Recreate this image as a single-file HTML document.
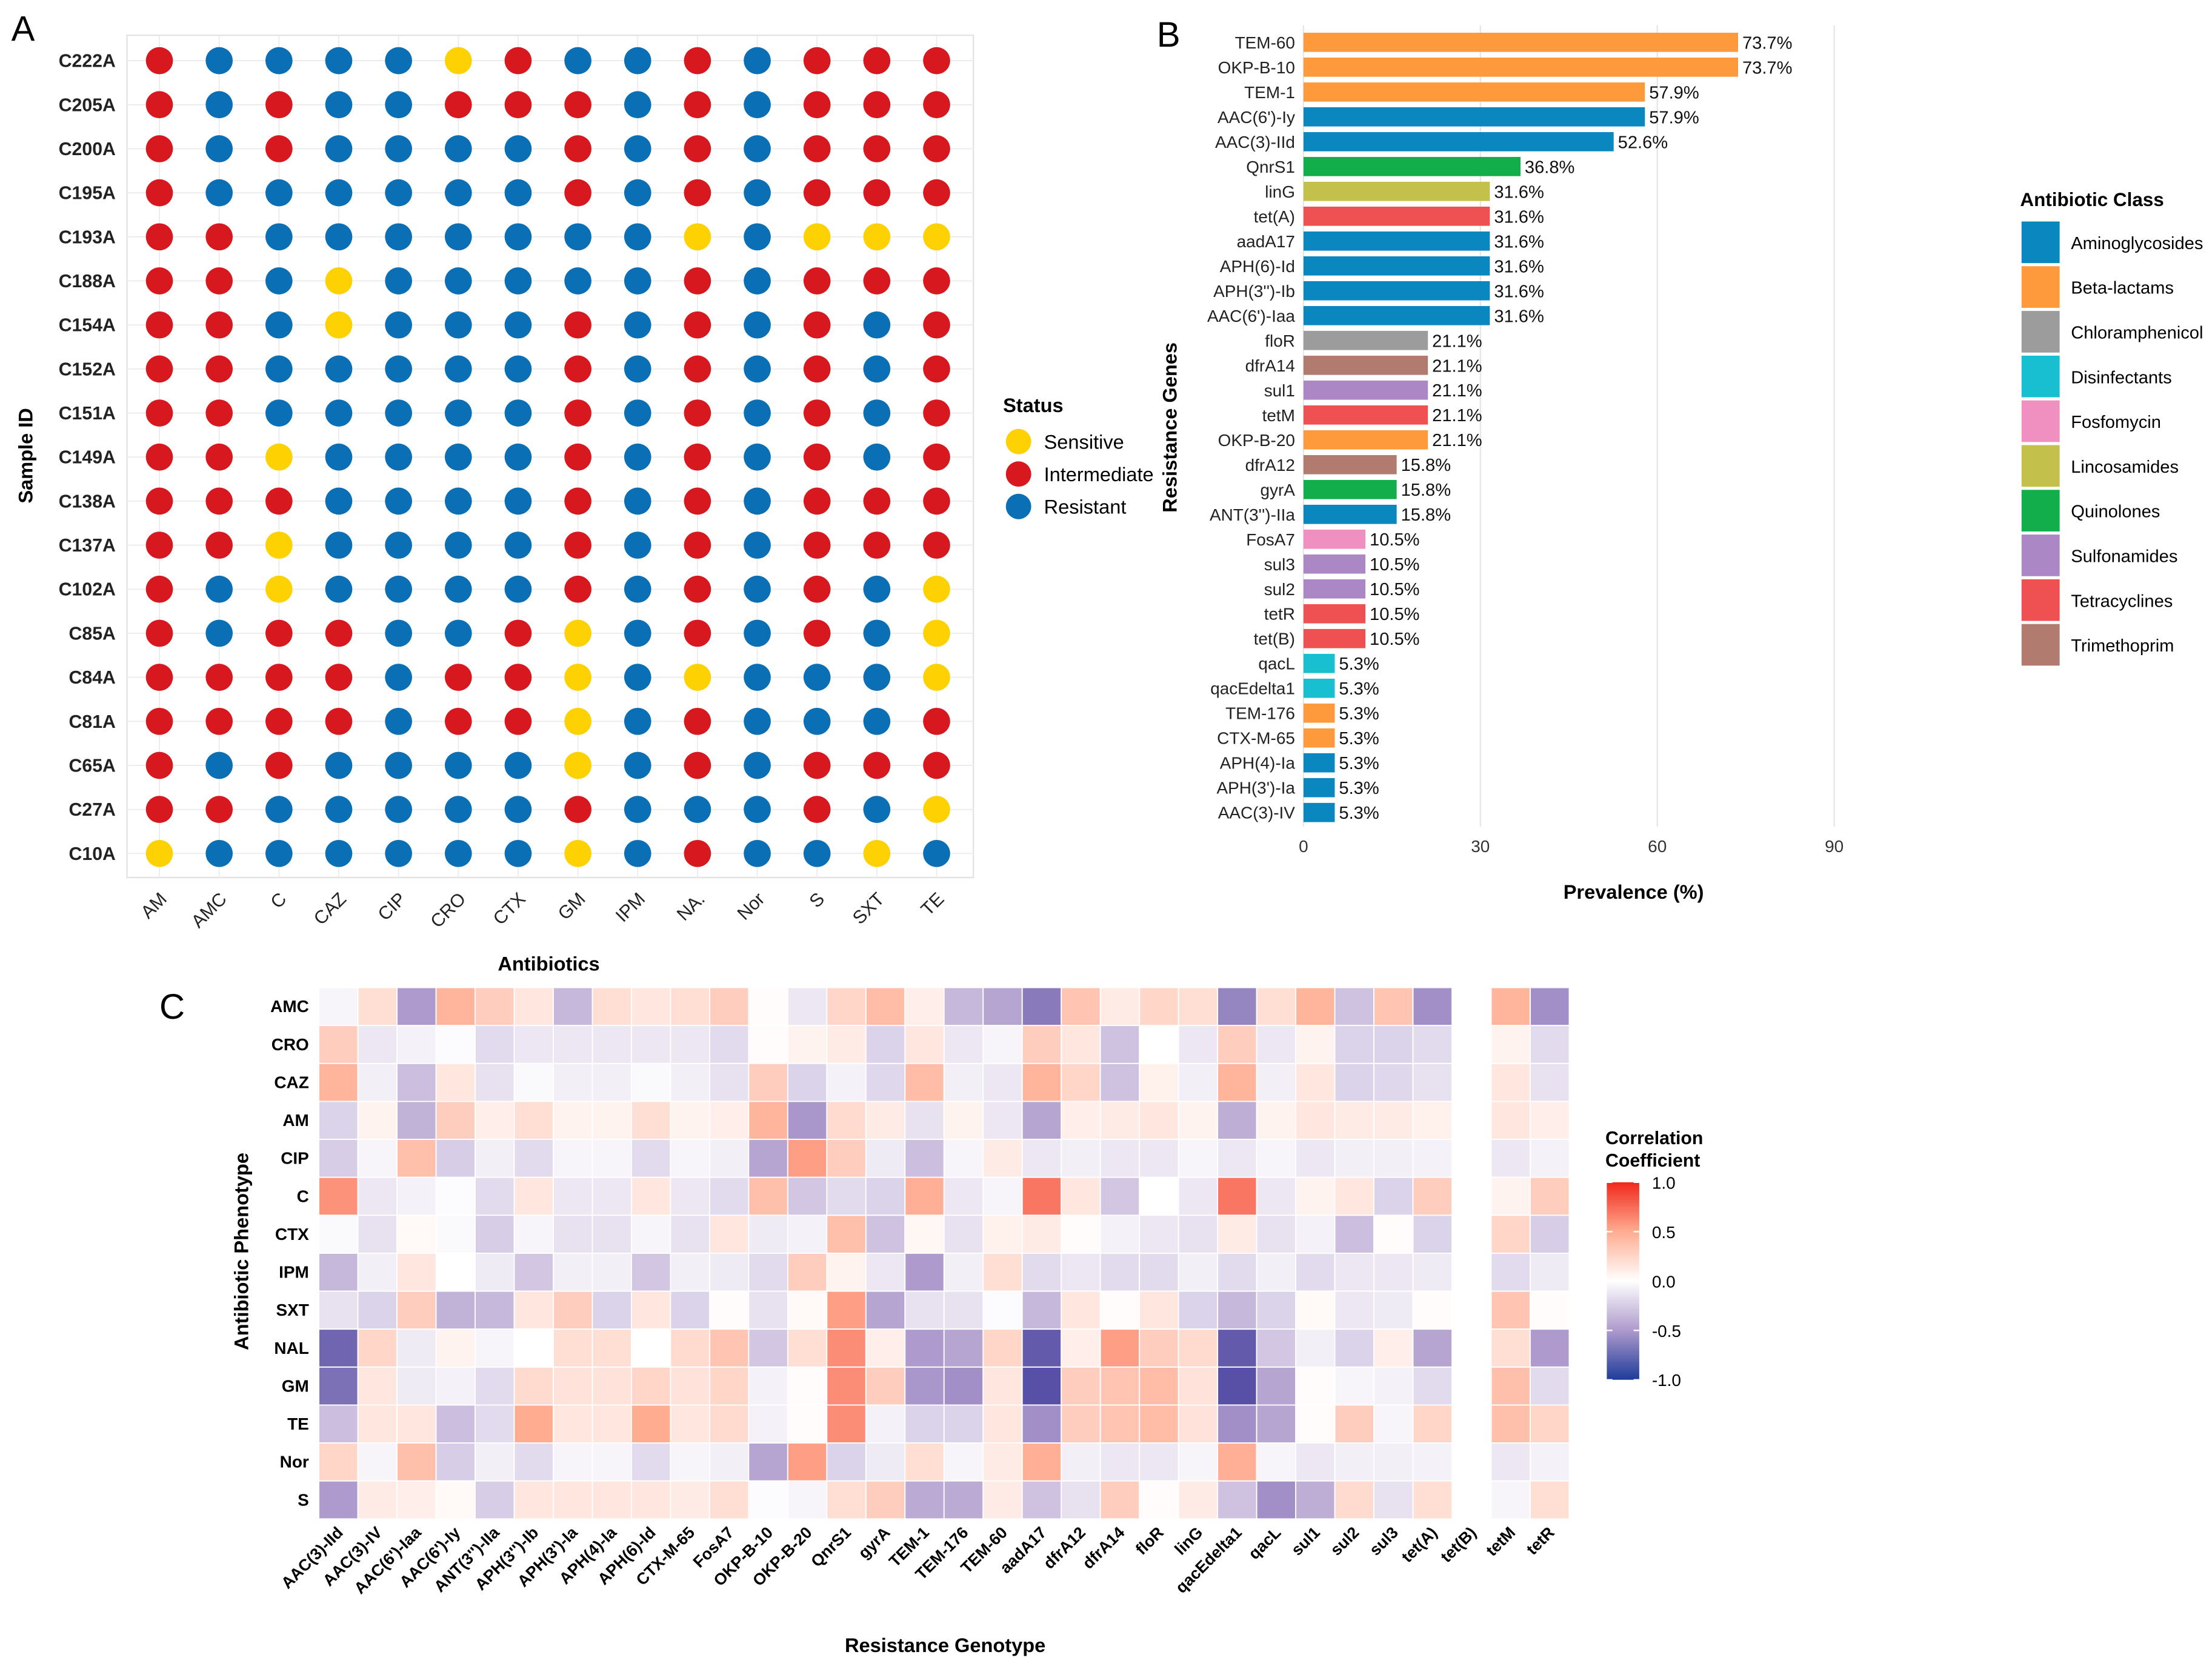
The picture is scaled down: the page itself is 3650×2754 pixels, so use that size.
<!DOCTYPE html>
<html><head><meta charset="utf-8">
<style>
html,body{margin:0;padding:0;background:#fff;}
svg{display:block;font-family:"Liberation Sans",Arial,sans-serif;}
</style></head>
<body>
<svg id="root" width="3650" height="2754" viewBox="0 0 1568 1183" preserveAspectRatio="none" xmlns="http://www.w3.org/2000/svg">
<rect width="1568" height="1183" fill="#fff"/>
<g id="pa"></g>
<g id="pb"></g>
<g id="pc"></g>
</svg>
<script>
// ---------- Panel A data ----------
const sampleIds = ["C222A","C205A","C200A","C195A","C193A","C188A","C154A","C152A","C151A","C149A","C138A","C137A","C102A","C85A","C84A","C81A","C65A","C27A","C10A"];
const antibioticsA = ["AM","AMC","C","CAZ","CIP","CRO","CTX","GM","IPM","NA.","Nor","S","SXT","TE"];
const statusRows = [
"RBBBBYRBBRBRRR","RBRBBRRRBRBRRR","RBRBBBBRBRBRRR","RBBBBBBRBRBRRR","RRBBBBBBBYBYYY",
"RRBYBBBBBRBRRR","RRBYBBBRBRBRBR","RRBBBBBRBRBRBR","RRBBBBBRBRBRBR","RRYBBBBRBRBRBR",
"RRRBBBBRBRBRRR","RRYBBBBRBRBRRR","RBYBBBBRBRBRBY","RBRRBBRYBRBRBY","RRRRBRRYBYBBBY",
"RRRRBRRYBRBBBR","RBRBBBBYBRBRRR","RRBBBBBRBBBRBY","YBBBBBBYBRBBYB"];
const statusLabels = ["Sensitive","Intermediate","Resistant"];

// ---------- Panel B data ----------
const genes = ["TEM-60","OKP-B-10","TEM-1","AAC(6')-Iy","AAC(3)-IId","QnrS1","linG","tet(A)","aadA17","APH(6)-Id","APH(3'')-Ib","AAC(6')-Iaa","floR","dfrA14","sul1","tetM","OKP-B-20","dfrA12","gyrA","ANT(3'')-IIa","FosA7","sul3","sul2","tetR","tet(B)","qacL","qacEdelta1","TEM-176","CTX-M-65","APH(4)-Ia","APH(3')-Ia","AAC(3)-IV"];
const prevalence = [73.7,73.7,57.9,57.9,52.6,36.8,31.6,31.6,31.6,31.6,31.6,31.6,21.1,21.1,21.1,21.1,21.1,15.8,15.8,15.8,10.5,10.5,10.5,10.5,10.5,5.3,5.3,5.3,5.3,5.3,5.3,5.3];
const geneClass = ["Beta-lactams","Beta-lactams","Beta-lactams","Aminoglycosides","Aminoglycosides","Quinolones","Lincosamides","Tetracyclines","Aminoglycosides","Aminoglycosides","Aminoglycosides","Aminoglycosides","Chloramphenicol","Trimethoprim","Sulfonamides","Tetracyclines","Beta-lactams","Trimethoprim","Quinolones","Aminoglycosides","Fosfomycin","Sulfonamides","Sulfonamides","Tetracyclines","Tetracyclines","Disinfectants","Disinfectants","Beta-lactams","Beta-lactams","Aminoglycosides","Aminoglycosides","Aminoglycosides"];
const classNames = ["Aminoglycosides","Beta-lactams","Chloramphenicol","Disinfectants","Fosfomycin","Lincosamides","Quinolones","Sulfonamides","Tetracyclines","Trimethoprim"];
const xTicksB = [0,30,60,90];

// ---------- Panel C data ----------
const phenotypes = ["AMC","CRO","CAZ","AM","CIP","C","CTX","IPM","SXT","NAL","GM","TE","Nor","S"];
const genotypes = ["AAC(3)-IId","AAC(3)-IV","AAC(6')-Iaa","AAC(6')-Iy","ANT(3'')-IIa","APH(3'')-Ib","APH(3')-Ia","APH(4)-Ia","APH(6)-Id","CTX-M-65","FosA7","OKP-B-10","OKP-B-20","QnrS1","gyrA","TEM-1","TEM-176","TEM-60","aadA17","dfrA12","dfrA14","floR","linG","qacEdelta1","qacL","sul1","sul2","sul3","tet(A)","tet(B)","tetM","tetR"];
const corrAMC=[-0.05,0.2,-0.5,0.45,0.3,0.15,-0.35,0.2,0.15,0.2,0.3,0.02,-0.12,0.25,0.4,0.1,-0.35,-0.45,-0.65,0.35,0.12,0.25,0.2,-0.6,0.2,0.45,-0.3,0.35,-0.55,null,0.45,-0.55];
const corrCRO=[0.3,-0.12,-0.07,-0.02,-0.18,-0.12,-0.12,-0.12,-0.12,-0.12,-0.18,0.02,0.07,0.12,-0.22,0.15,-0.12,-0.05,0.3,0.15,-0.3,0,-0.12,0.3,-0.12,0.07,-0.22,-0.22,-0.18,null,0.07,-0.18];
const corrCAZ=[0.45,-0.08,-0.32,0.15,-0.15,-0.03,-0.08,-0.08,-0.03,-0.08,-0.15,0.3,-0.22,-0.07,-0.2,0.4,-0.08,-0.12,0.45,0.25,-0.3,0.08,-0.08,0.45,-0.08,0.15,-0.22,-0.2,-0.15,null,0.15,-0.15];
const corrAM=[-0.22,0.07,-0.38,0.3,0.1,0.2,0.07,0.07,0.2,0.07,0.1,0.45,-0.52,0.22,0.12,-0.15,0.07,-0.12,-0.45,0.1,0.12,0.15,0.07,-0.4,0.07,0.15,0.12,0.12,0.08,null,0.15,0.1];
const corrCIP=[-0.25,-0.05,0.38,-0.25,-0.08,-0.18,-0.05,-0.05,-0.18,-0.05,-0.08,-0.45,0.55,0.3,-0.1,-0.32,-0.05,0.12,-0.12,-0.08,-0.12,-0.12,-0.05,-0.12,-0.05,-0.12,-0.08,-0.08,-0.07,null,-0.12,-0.07];
const corrC=[0.6,-0.12,-0.07,-0.02,-0.18,0.15,-0.12,-0.12,0.15,-0.12,-0.18,0.38,-0.28,-0.18,-0.22,0.48,-0.12,-0.05,0.7,0.15,-0.28,0,-0.12,0.7,-0.12,0.07,0.15,-0.22,0.3,null,0.07,0.3];
const corrCTX=[-0.03,-0.15,0.03,-0.03,-0.25,-0.05,-0.15,-0.15,-0.05,-0.15,0.15,-0.1,-0.07,0.38,-0.3,0.05,-0.15,0.08,0.12,0.02,-0.07,-0.12,-0.15,0.12,-0.15,-0.07,-0.32,0.02,-0.22,null,0.25,-0.25];
const corrIPM=[-0.35,-0.08,0.15,0,-0.1,-0.28,-0.08,-0.08,-0.28,-0.08,-0.1,-0.18,0.3,0.07,-0.12,-0.5,-0.08,0.2,-0.18,-0.12,-0.18,-0.18,-0.08,-0.18,-0.08,-0.18,-0.12,-0.12,-0.1,null,-0.18,-0.1];
const corrSXT=[-0.15,-0.22,0.3,-0.38,-0.35,0.15,0.3,-0.22,0.15,-0.22,0.02,-0.15,0.03,0.55,-0.45,-0.15,-0.15,-0.02,-0.35,0.15,0.02,0.15,-0.22,-0.35,-0.22,0.03,-0.12,-0.1,0.02,null,0.35,0.02];
const corrNAL=[-0.75,0.25,-0.1,0.07,-0.05,0,0.2,0.2,0,0.22,0.35,-0.28,0.2,0.62,0.1,-0.5,-0.45,0.25,-0.8,0.1,0.55,0.3,0.22,-0.8,-0.28,-0.08,-0.22,0.1,-0.45,null,0.2,-0.5];
const corrGM=[-0.7,0.15,-0.1,-0.07,-0.18,0.22,0.17,0.17,0.25,0.17,0.25,-0.07,0.02,0.62,0.3,-0.52,-0.55,0.15,-0.85,0.3,0.35,0.4,0.17,-0.85,-0.45,0.02,-0.05,-0.07,-0.18,null,0.38,-0.18];
const corrTE=[-0.32,0.15,0.15,-0.32,-0.18,0.5,0.15,0.15,0.5,0.15,0.22,-0.07,0.02,0.62,-0.07,-0.22,-0.22,0.15,-0.55,0.3,0.35,0.4,0.17,-0.55,-0.45,0.02,0.3,-0.05,0.25,null,0.38,0.25];
const corrNor=[0.25,-0.05,0.38,-0.25,-0.08,-0.18,-0.05,-0.05,-0.18,-0.05,-0.08,-0.45,0.55,-0.22,-0.1,0.2,-0.05,0.12,0.48,-0.08,-0.12,-0.12,-0.05,0.48,-0.05,-0.12,-0.08,-0.08,-0.07,null,-0.12,-0.07];
const corrS=[-0.5,0.12,0.1,0.03,-0.25,0.15,0.15,0.15,0.15,0.12,0.2,-0.02,-0.05,0.2,0.3,-0.42,-0.42,0.12,-0.3,-0.15,0.3,0.02,0.12,-0.3,-0.55,-0.4,0.22,-0.15,0.2,null,-0.05,0.2];
const corrRows=[corrAMC,corrCRO,corrCAZ,corrAM,corrCIP,corrC,corrCTX,corrIPM,corrSXT,corrNAL,corrGM,corrTE,corrNor,corrS];
const cbTicks=[1.0,0.5,0.0,-0.5,-1.0];

const NS="http://www.w3.org/2000/svg";
function mk(parent,tag,attrs,text){const e=document.createElementNS(NS,tag);for(const k in attrs)e.setAttribute(k,attrs[k]);if(text!==undefined)e.textContent=text;parent.appendChild(e);return e;}

// ===== Panel A =====
const pa=document.getElementById('pa');
const ax0=113, axStep=42.38, ay0=43, ayStep=31.22;
const xA=i=>ax0+i*axStep, yA=i=>ay0+i*ayStep;
const statusColor={Y:"#fed102",R:"#d7191f",B:"#0a6fb5"};
const statusName={Y:"sensitive",R:"intermediate",B:"resistant"};
let t;
t=mk(pa,'text',{x:8,y:29,'font-size':25},'A');


let r=mk(pa,'rect',{x:90,y:25,width:600,height:597,fill:'#fff',stroke:'#e3e3e3','stroke-width':1});


for(let i=0;i<antibioticsA.length;i++){
  const l=mk(pa,'line',{x1:xA(i),x2:xA(i),y1:25,y2:622,stroke:'#ececec','stroke-width':0.8});
  
  
}
for(let j=0;j<sampleIds.length;j++){
  const l=mk(pa,'line',{x1:90,x2:690,y1:yA(j),y2:yA(j),stroke:'#ececec','stroke-width':0.8});
  
  
  const tx=mk(pa,'text',{x:82,y:yA(j)+4.5,'font-size':13,'font-weight':'bold','text-anchor':'end',fill:'#222'},sampleIds[j]);
  
  
  for(let i=0;i<antibioticsA.length;i++){
    const s=statusRows[j][i];
    const c=mk(pa,'circle',{cx:xA(i),cy:yA(j),r:9.6,fill:statusColor[s]});
    
    
  }
}
for(let i=0;i<antibioticsA.length;i++){
  const tx=mk(pa,'text',{x:xA(i)+6,y:638,'font-size':13,'text-anchor':'end',fill:'#222',transform:`rotate(-45 ${xA(i)+6} 638)`},antibioticsA[i]);
  
  
}
t=mk(pa,'text',{x:389,y:688,'font-size':14,'font-weight':'bold','text-anchor':'middle'},'Antibiotics');


t=mk(pa,'text',{x:23,y:323,'font-size':14,'font-weight':'bold','text-anchor':'middle',transform:'rotate(-90 23 323)'},'Sample ID');


t=mk(pa,'text',{x:711,y:292,'font-size':14,'font-weight':'bold'},'Status');


const legCols=["#fed102","#d7191f","#0a6fb5"];
for(let k=0;k<statusLabels.length;k++){
  const g=mk(pa,'g',{});
  
  
  mk(g,'circle',{cx:722,cy:313+k*23,r:9,fill:legCols[k]});
  mk(g,'text',{x:740,y:318+k*23,'font-size':14},statusLabels[k]);
}

// ===== Panel B =====
const pb=document.getElementById('pb');
const bx0=924, bScale=4.18, by0=30, byStep=17.61;
const xB=v=>bx0+v*bScale, yB=i=>by0+i*byStep;
const classColor={"Aminoglycosides":"#0b87bf","Beta-lactams":"#fe9a3c","Chloramphenicol":"#9c9c9c","Disinfectants":"#17bfd0","Fosfomycin":"#ef90c1","Lincosamides":"#c3c04b","Quinolones":"#12ae4b","Sulfonamides":"#ab87c5","Tetracyclines":"#ef5052","Trimethoprim":"#b17b70"};
t=mk(pb,'text',{x:820,y:33,'font-size':25},'B');


for(const v of xTicksB){
  const l=mk(pb,'line',{x1:xB(v),x2:xB(v),y1:18,y2:586,stroke:'#e6e6e6','stroke-width':1});
  
  
  const tx=mk(pb,'text',{x:xB(v),y:604,'font-size':12,'text-anchor':'middle',fill:'#333'},String(v));
  
  
}
for(let i=0;i<genes.length;i++){
  const tx=mk(pb,'text',{x:918,y:yB(i)+4.3,'font-size':12,'text-anchor':'end',fill:'#222'},genes[i]);
  
  
  const b=mk(pb,'rect',{x:bx0,y:yB(i)-6.8,width:xB(prevalence[i])-bx0,height:13.6,fill:classColor[geneClass[i]]});
  
  
  const v=mk(pb,'text',{x:xB(prevalence[i])+3,y:yB(i)+4.5,'font-size':12.5,fill:'#111'},prevalence[i].toFixed(1)+'%');
  
  
}
t=mk(pb,'text',{x:1158,y:637,'font-size':14,'font-weight':'bold','text-anchor':'middle'},'Prevalence (%)');


t=mk(pb,'text',{x:834,y:303,'font-size':14,'font-weight':'bold','text-anchor':'middle',transform:'rotate(-90 834 303)'},'Resistance Genes');


t=mk(pb,'text',{x:1432,y:146,'font-size':13.5,'font-weight':'bold'},'Antibiotic Class');


for(let k=0;k<classNames.length;k++){
  const g=mk(pb,'g',{});
  
  
  mk(g,'rect',{x:1433,y:157+k*31.7,width:27,height:29.5,fill:classColor[classNames[k]]});
  mk(g,'text',{x:1468,y:176.5+k*31.7,'font-size':12.5},classNames[k]);
}

// ===== Panel C =====
const pc=document.getElementById('pc');
const cx0=226, cw=27.7, cy0=700, ch=26.9;
const xC=i=>cx0+i*cw, yC=j=>cy0+j*ch;
const stops=[[-1,[50,48,150]],[-0.5,[174,154,204]],[0,[255,255,255]],[0.5,[255,172,145]],[1,[240,40,28]]];
const legendStops=[[-1,[30,60,155]],[-0.5,[174,154,204]],[0,[255,255,255]],[0.5,[255,172,145]],[1,[240,40,28]]];
function corrColor(v){
  for(let k=0;k<stops.length-1;k++){
    const [a,ca]=stops[k],[b,cb]=stops[k+1];
    if(v>=a&&v<=b){const f=(v-a)/(b-a);return 'rgb('+ca.map((c,i)=>Math.round(c+(cb[i]-c)*f)).join(',')+')';}
  }
  return '#fff';
}
t=mk(pc,'text',{x:113,y:722,'font-size':25},'C');


for(let j=0;j<phenotypes.length;j++){
  const tx=mk(pc,'text',{x:219,y:yC(j)+ch/2+4,'font-size':12,'font-weight':'bold','text-anchor':'end'},phenotypes[j]);
  
  
  for(let i=0;i<genotypes.length;i++){
    const v=corrRows[j][i];
    if(v===null||v===undefined) continue;
    const c=mk(pc,'rect',{x:xC(i),y:yC(j),width:cw,height:ch,fill:corrColor(v),stroke:'#fff','stroke-width':0.8});
    
    
  }
}
for(let i=0;i<genotypes.length;i++){
  const px=xC(i)+cw/2+4, py=1087;
  const tx=mk(pc,'text',{x:px,y:py,'font-size':11.5,'font-weight':'bold','text-anchor':'end',transform:`rotate(-45 ${px} ${py})`},genotypes[i]);
  
  
}
t=mk(pc,'text',{x:670,y:1171,'font-size':14,'font-weight':'bold','text-anchor':'middle'},'Resistance Genotype');


t=mk(pc,'text',{x:176,y:887,'font-size':14,'font-weight':'bold','text-anchor':'middle',transform:'rotate(-90 176 887)'},'Antibiotic Phenotype');


t=mk(pc,'text',{x:1138,y:811,'font-size':13,'font-weight':'bold'},'Correlation');


t=mk(pc,'text',{x:1138,y:827,'font-size':13,'font-weight':'bold'},'Coefficient');


const defs=mk(pc,'defs',{});
const grad=mk(defs,'linearGradient',{id:'cbg',x1:0,y1:0,x2:0,y2:1});
for(const s of legendStops.slice().reverse()){mk(grad,'stop',{offset:((1-s[0])/2*100)+'%','stop-color':'rgb('+s[1].join(',')+')'});}
const cbTop=838, cbBot=978;
const yCb=v=>cbTop+(1-v)/2*(cbBot-cbTop);
r=mk(pc,'rect',{x:1139,y:cbTop,width:23,height:cbBot-cbTop,fill:'url(#cbg)'});


for(const v of cbTicks){
  mk(pc,'line',{x1:1139,x2:1143,y1:yCb(v),y2:yCb(v),stroke:'#fff'});
  mk(pc,'line',{x1:1158,x2:1162,y1:yCb(v),y2:yCb(v),stroke:'#fff'});
  const tx=mk(pc,'text',{x:1171,y:yCb(v)+4.5,'font-size':12},v.toFixed(1));
  
  
}
</script>
</body></html>
